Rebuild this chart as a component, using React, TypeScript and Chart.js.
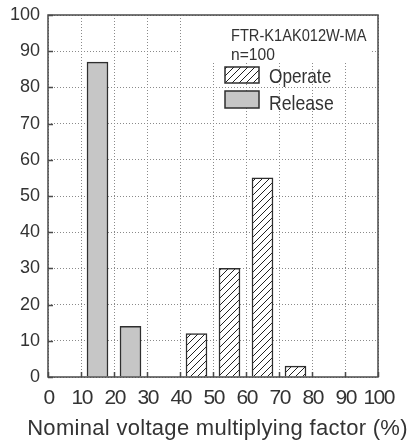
import React, { useEffect, useRef } from "react";
import { Chart, registerables } from "chart.js";

Chart.register(...registerables);

const releaseX = [15, 25];
const releaseY = [87, 14];
const operateX = [45, 55, 65, 75];
const operateY = [12, 30, 55, 3];
const xTicks = [0, 10, 20, 30, 40, 50, 60, 70, 80, 90, 100];
const yTicks = [0, 10, 20, 30, 40, 50, 60, 70, 80, 90, 100];
const legendTitle = ["FTR-K1AK012W-MA", "n=100"];
const seriesNames = ["Operate", "Release"];
const xTitle = "Nominal voltage multiplying factor (%)";

const REG = "'Liberation Sans', Arial, sans-serif";
const TEXT = "#333333";
const DARK = "#2e2e2e";

function makeHatch(): CanvasPattern | string {
  const c = document.createElement("canvas");
  const s = 7;
  c.width = s;
  c.height = s;
  const g = c.getContext("2d");
  if (!g) return "#fff";
  g.fillStyle = "#ffffff";
  g.fillRect(0, 0, s, s);
  g.strokeStyle = "#222";
  g.lineWidth = 1;
  g.beginPath();
  g.moveTo(-1, s + 1);
  g.lineTo(s + 1, -1);
  g.moveTo(-1, 1);
  g.lineTo(1, -1);
  g.moveTo(s - 1, s + 1);
  g.lineTo(s + 1, s - 1);
  g.stroke();
  const p = g.createPattern(c, "repeat");
  return p || "#fff";
}

function narrowText(ctx: CanvasRenderingContext2D, text: string, x: number, y: number, size: number, sx: number) {
  ctx.save();
  ctx.font = `${size}px ${REG}`;
  ctx.textAlign = "left";
  ctx.textBaseline = "alphabetic";
  ctx.translate(x, y);
  ctx.scale(sx, 1);
  ctx.fillText(text, 0, 0);
  ctx.restore();
}

export default function App() {
  const ref = useRef<HTMLCanvasElement>(null);
  useEffect(() => {
    if (!ref.current) return;
    const hatch = makeHatch();

    const patchPlugin = {
      id: "patchText",
      beforeDraw(chart: any) {
        const sx = chart.scales.x;
        const ctx = chart.ctx;
        if (sx && !sx.__patched) {
          const origLabels = sx.drawLabels.bind(sx);
          sx.drawLabels = (area: any) => {
            ctx.save();
            ctx.letterSpacing = "-1.5px";
            ctx.translate(0.7, 0);
            origLabels(area);
            ctx.restore();
          };
          const origTitle = sx.drawTitle.bind(sx);
          sx.drawTitle = () => {
            const l = sx.left;
            const r = sx.right;
            sx.left = l - 22;
            sx.right = r + 31;
            ctx.save();
            ctx.letterSpacing = "0.3px";
            origTitle();
            ctx.restore();
            sx.left = l;
            sx.right = r;
          };
          sx.__patched = true;
        }
      },
    };

    const boxPlugin = {
      id: "boxAndTicks",
      afterDatasetsDraw(chart: any) {
        const { ctx, chartArea: a, scales } = chart;
        ctx.save();
        ctx.strokeStyle = "#4a4a4a";
        ctx.lineWidth = 1.5;
        ctx.setLineDash([]);
        ctx.beginPath();
        xTicks.forEach((v) => {
          const px = Math.round(scales.x.getPixelForValue(v)) + 0.5;
          ctx.moveTo(px, a.bottom);
          ctx.lineTo(px, a.bottom - 5);
        });
        yTicks.forEach((v) => {
          const py = Math.round(scales.y.getPixelForValue(v)) + 0.5;
          ctx.moveTo(a.left, py);
          ctx.lineTo(a.left + 5, py);
        });
        ctx.stroke();
        ctx.strokeRect(a.left, a.top, a.right - a.left, a.bottom - a.top);
        ctx.restore();
      },
    };

    const legendPlugin = {
      id: "customLegend",
      afterDraw(chart: any) {
        const { ctx } = chart;
        ctx.save();
        ctx.fillStyle = "#ffffff";
        ctx.fillRect(183, 17, 188, 44);
        ctx.fillStyle = TEXT;
        narrowText(ctx, legendTitle[0], 231, 41, 17, 0.86);
        narrowText(ctx, legendTitle[1], 231, 60, 17, 0.92);
        ctx.lineWidth = 1.5;
        ctx.strokeStyle = DARK;
        ctx.fillStyle = hatch as any;
        ctx.fillRect(225, 67, 34, 16);
        ctx.strokeRect(225, 67, 34, 16);
        ctx.fillStyle = "#c6c6c6";
        ctx.fillRect(225, 91, 34, 17);
        ctx.strokeRect(225, 91, 34, 17);
        ctx.fillStyle = TEXT;
        narrowText(ctx, seriesNames[0], 269, 83, 21, 0.82);
        narrowText(ctx, seriesNames[1], 269, 110, 21, 0.84);
        ctx.restore();
      },
    };

    const chart = new Chart(ref.current, {
      type: "bar",
      data: {
        datasets: [
          {
            label: seriesNames[0],
            data: operateX.map((x, i) => ({ x, y: operateY[i] })),
            backgroundColor: hatch as any,
            borderColor: DARK,
            borderWidth: 1.5,
            barThickness: 21,
            grouped: false,
          },
          {
            label: seriesNames[1],
            data: releaseX.map((x, i) => ({ x, y: releaseY[i] })),
            backgroundColor: "#c6c6c6",
            borderColor: DARK,
            borderWidth: 1.5,
            barThickness: 21,
            grouped: false,
          },
        ] as any,
      },
      options: {
        animation: false,
        responsive: false,
        layout: { padding: { left: 0, top: 15, right: 35, bottom: 0 } },
        plugins: {
          legend: { display: false },
          tooltip: { enabled: false },
        },
        scales: {
          x: {
            type: "linear",
            min: 0,
            max: 100,
            offset: false,
            afterBuildTicks: (s: any) => {
              s.ticks = xTicks.map((v) => ({ value: v }));
            },
            afterFit: (s: any) => {
              s.height = 66;
              s.paddingLeft = 0;
              s.paddingRight = 0;
            },
            ticks: {
              padding: 9,
              color: TEXT,
              font: { family: REG, size: 21 },
              maxRotation: 0,
              autoSkip: false,
            },
            grid: {
              offset: false,
              drawTicks: false,
              color: "#8a8a8a",
              lineWidth: 1,
            },
            border: { display: false, dash: [1, 2] },
            title: {
              display: true,
              text: xTitle,
              color: TEXT,
              font: { family: REG, size: 22 },
              padding: { top: 0, bottom: 1 },
            },
          },
          y: {
            min: 0,
            max: 100,
            afterBuildTicks: (s: any) => {
              s.ticks = yTicks.map((v) => ({ value: v }));
            },
            afterFit: (s: any) => {
              s.width = 48;
              s.paddingTop = 0;
              s.paddingBottom = 0;
            },
            ticks: {
              padding: 8,
              color: TEXT,
              font: { family: REG, size: 18 },
            },
            grid: {
              drawTicks: false,
              color: "#8a8a8a",
              lineWidth: 1,
            },
            border: { display: false, dash: [1, 2] },
          },
        },
      } as any,
      plugins: [patchPlugin, boxPlugin, legendPlugin],
    });
    return () => chart.destroy();
  }, []);

  return (
    <canvas
      ref={ref}
      width={413}
      height={443}
      style={{ position: "absolute", left: 0, top: 0, width: 413, height: 443 }}
    />
  );
}
